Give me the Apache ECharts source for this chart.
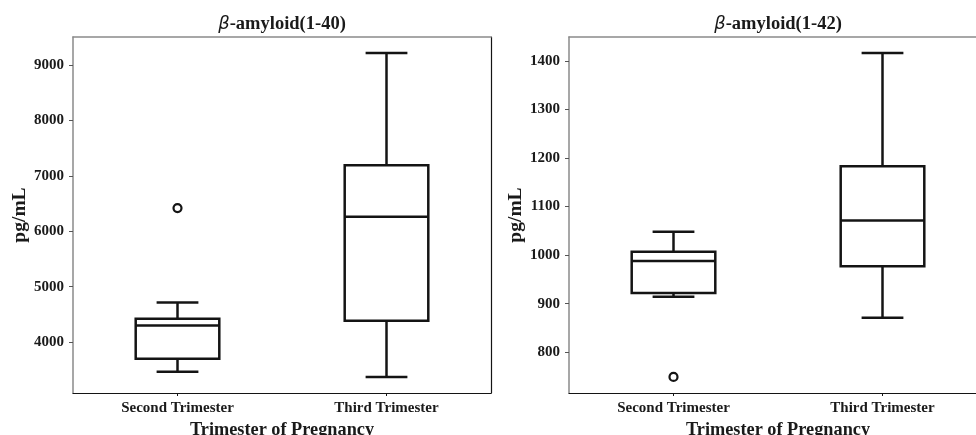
<!DOCTYPE html>
<html>
<head>
<meta charset="utf-8">
<script src="https://cdn.jsdelivr.net/npm/echarts@6/dist/echarts.min.js"></script>
<style>
html,body{margin:0;padding:0;background:#fff;}
#c{width:976px;height:435px;}
</style>
</head>
<body>
<div id="c"></div>
<script>
// ---- data ----
const categories = ['Second Trimester', 'Third Trimester'];
// [min whisker, Q1, median, Q3, max whisker]
const ab40Box = [[3465, 3700, 4300, 4420, 4713], [3370, 4385, 6265, 7195, 9222]];
const ab40Outliers = [[0, 6420]];
const ab42Box = [[914, 922, 988, 1007, 1048], [871, 977, 1071, 1183, 1416]];
const ab42Outliers = [[0, 749]];
const ab40Ticks = [4000, 5000, 6000, 7000, 8000, 9000];
const ab42Ticks = [800, 900, 1000, 1100, 1200, 1300, 1400];
const ab40Range = [3080, 9510];
const ab42Range = [716, 1449];

const SERIF = '"Liberation Serif", "Times New Roman", serif';
const INK = '#141414';
const GRAY = '#8a8a8a';

function renderBox(params, api) {
  const x = api.value(0);
  const lo = api.value(1), q1 = api.value(2), md = api.value(3), q3 = api.value(4), hi = api.value(5);
  const band = api.size([1, 0])[0];
  const bw = band * 0.4, cw = band * 0.2;
  const cx = api.coord([x, md])[0];
  const yLo = api.coord([x, lo])[1], yQ1 = api.coord([x, q1])[1], yMd = api.coord([x, md])[1];
  const yQ3 = api.coord([x, q3])[1], yHi = api.coord([x, hi])[1];
  const st = { stroke: INK, lineWidth: 2.5, fill: null };
  const line = (x1, y1, x2, y2) => ({ type: 'line', shape: { x1, y1, x2, y2 }, style: st });
  return {
    type: 'group',
    children: [
      line(cx, yQ3, cx, yHi),
      line(cx, yQ1, cx, yLo),
      line(cx - cw / 2, yHi, cx + cw / 2, yHi),
      line(cx - cw / 2, yLo, cx + cw / 2, yLo),
      { type: 'rect', shape: { x: cx - bw / 2, y: yQ3, width: bw, height: yQ1 - yQ3 }, style: { stroke: INK, lineWidth: 2.5, fill: 'rgba(0,0,0,0)' } },
      line(cx - bw / 2, yMd, cx + bw / 2, yMd)
    ]
  };
}

function boxData(arr) { return arr.map((d, i) => [i].concat(d)); }

function axesFor(gi, title, range, ticks) {
  const xs = [
    {
      gridIndex: gi, type: 'category', data: categories, position: 'bottom', boundaryGap: true,
      axisLine: { show: true, lineStyle: { color: INK, width: 1.2 } },
      axisTick: { show: true, alignWithLabel: true, length: 3, lineStyle: { color: INK, width: 1 } },
      axisLabel: { margin: 8, color: '#1a1a1a', fontFamily: SERIF, fontWeight: 'bold', fontSize: 15 },
      splitLine: { show: false },
      name: 'Trimester of Pregnancy', nameLocation: 'middle', nameGap: 25,
      nameTextStyle: { color: '#1a1a1a', fontFamily: SERIF, fontWeight: 'bold', fontSize: 18.3 }
    },
    {
      gridIndex: gi, type: 'category', data: categories, position: 'top', boundaryGap: true,
      axisLine: { show: true, lineStyle: { color: GRAY, width: 1.5 } },
      axisTick: { show: false }, axisLabel: { show: false }, splitLine: { show: false },
      name: '{b|β}{n|' + title + '}', nameLocation: 'middle', nameGap: 3,
      nameTextStyle: {
        rich: {
          b: { fontFamily: '"DejaVu Sans", sans-serif', fontStyle: 'italic', fontSize: 18, color: '#1a1a1a' },
          n: { fontFamily: SERIF, fontWeight: 'bold', fontSize: 18.5, color: '#1a1a1a' }
        }
      }
    }
  ];
  const ys = [
    {
      gridIndex: gi, type: 'value', position: 'left', min: range[0], max: range[1],
      axisLine: { show: true, lineStyle: { color: GRAY, width: 1.5 } },
      axisTick: { show: true, length: 4, customValues: ticks, lineStyle: { color: '#555', width: 1 } },
      axisLabel: { customValues: ticks, formatter: v => String(v), margin: 9, color: '#1a1a1a', fontFamily: SERIF, fontWeight: 'bold', fontSize: 15 },
      splitLine: { show: false },
      name: 'pg/mL', nameLocation: 'middle', nameGap: 37, nameRotate: 90,
      nameTextStyle: { color: '#1a1a1a', fontFamily: SERIF, fontWeight: 'bold', fontSize: 19.5 }
    },
    {
      gridIndex: gi, type: 'value', position: 'right', min: range[0], max: range[1],
      axisLine: { show: true, lineStyle: { color: INK, width: 1.2 } },
      axisTick: { show: false }, axisLabel: { show: false }, splitLine: { show: false }
    }
  ];
  return { xs, ys };
}

const a0 = axesFor(0, '-amyloid(1-40)', ab40Range, ab40Ticks);
const a1 = axesFor(1, '-amyloid(1-42)', ab42Range, ab42Ticks);

const option = {
  animation: false,
  backgroundColor: '#fff',
  grid: [
    { left: 73, top: 37, width: 418, height: 356, outerBoundsMode: 'none', containLabel: false },
    { left: 569, top: 37, width: 418, height: 356, outerBoundsMode: 'none', containLabel: false }
  ],
  xAxis: a0.xs.concat(a1.xs),
  yAxis: a0.ys.concat(a1.ys),
  series: [
    { type: 'custom', xAxisIndex: 0, yAxisIndex: 0, renderItem: renderBox, encode: { x: 0, y: [1, 2, 3, 4, 5] }, data: boxData(ab40Box) },
    { type: 'scatter', xAxisIndex: 0, yAxisIndex: 0, symbol: 'circle', symbolSize: 8,
      itemStyle: { color: '#fff', borderColor: INK, borderWidth: 2.2, opacity: 1 }, data: ab40Outliers },
    { type: 'custom', xAxisIndex: 2, yAxisIndex: 2, renderItem: renderBox, encode: { x: 0, y: [1, 2, 3, 4, 5] }, data: boxData(ab42Box) },
    { type: 'scatter', xAxisIndex: 2, yAxisIndex: 2, symbol: 'circle', symbolSize: 8,
      itemStyle: { color: '#fff', borderColor: INK, borderWidth: 2.2, opacity: 1 }, data: ab42Outliers }
  ]
};

const chart = echarts.init(document.getElementById('c'), null, { renderer: 'canvas' });
chart.setOption(option);
</script>
</body>
</html>
